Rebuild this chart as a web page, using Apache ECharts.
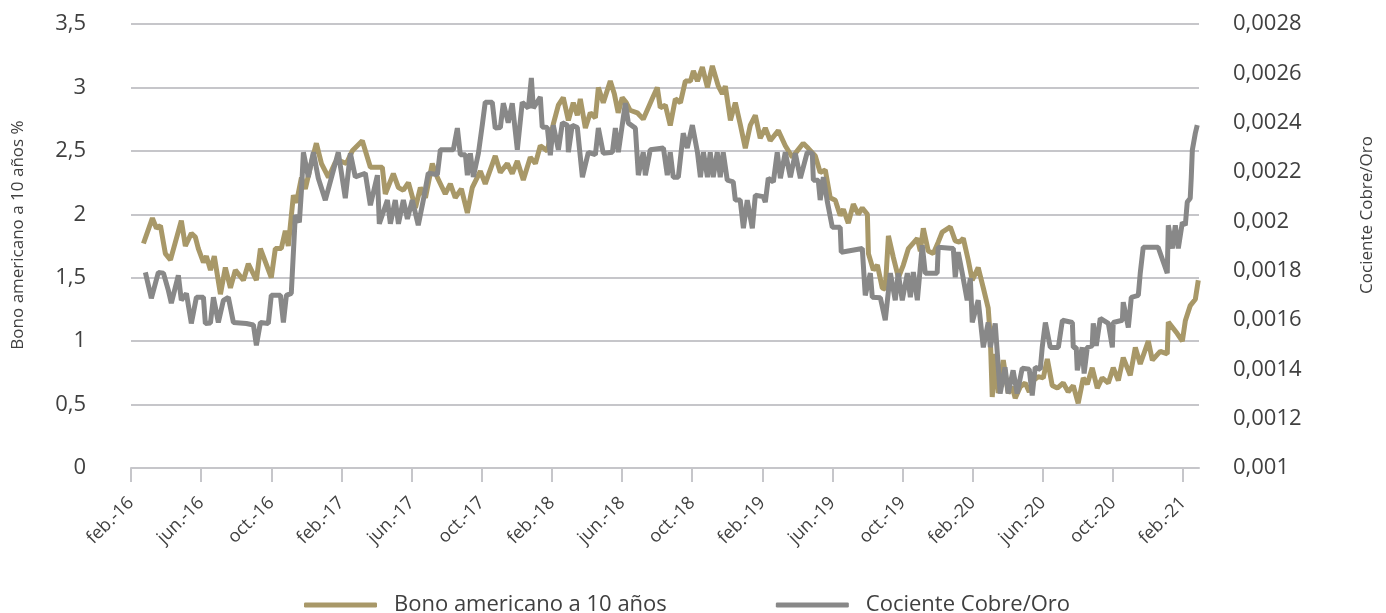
<!DOCTYPE html>
<html>
<head>
<meta charset="utf-8">
<title>Bono americano vs Cociente Cobre/Oro</title>
<script src="https://cdn.jsdelivr.net/npm/echarts@6/dist/echarts.min.js"></script>
<style>
    html, body { margin: 0; padding: 0; background: #fff; }
    #main { width: 1386px; height: 613px; }
</style>
</head>
<body>
<div id="main"></div>
<script>
// meses desde feb-16 (posicion en el eje de fechas)
var mesesBono = [
    0.71, 1.22, 1.45, 1.68, 1.96, 2.25, 2.87, 3.10, 3.44, 3.67,
    3.84, 4.13, 4.30, 4.53, 4.75, 5.10, 5.38, 5.67, 5.95, 6.41,
    6.69, 7.15, 7.38, 8.00, 8.23, 8.57, 8.80, 8.97, 9.26, 9.43,
    9.72, 9.94, 10.29, 10.57, 10.86, 11.26, 11.65, 11.94, 12.28, 12.62,
    13.19, 13.65, 14.33, 14.50, 14.96, 15.25, 15.53, 15.82, 16.22, 16.50,
    16.79, 17.18, 17.47, 17.92, 18.21, 18.49, 18.84, 19.18, 19.46, 19.92,
    20.20, 20.77, 21.06, 21.46, 21.74, 22.03, 22.37, 22.77, 23.06, 23.34,
    23.74, 24.08, 24.37, 24.65, 24.94, 25.22, 25.45, 25.62, 25.91, 26.19,
    26.48, 26.65, 26.93, 27.33, 27.56, 27.78, 28.01, 28.24, 28.46, 28.87,
    29.21, 29.72, 30.01, 30.18, 30.47, 30.75, 31.04, 31.33, 31.61, 31.90,
    32.07, 32.30, 32.58, 32.87, 33.15, 33.49, 33.72, 33.89, 34.18, 34.46,
    34.74, 35.03, 35.31, 35.60, 35.88, 36.17, 36.45, 36.91, 37.31, 37.71,
    37.99, 38.33, 38.62, 39.02, 39.30, 39.59, 39.87, 40.16, 40.44, 40.62,
    40.90, 41.19, 41.47, 41.70, 41.99, 42.05, 42.33, 42.56, 42.84, 43.01,
    43.19, 43.47, 43.76, 44.04, 44.33, 44.84, 45.01, 45.18, 45.46, 45.75,
    46.03, 46.26, 46.72, 47.00, 47.23, 47.46, 47.74, 47.97, 48.31, 48.60,
    48.88, 49.00, 49.11, 49.28, 49.45, 49.74, 50.02, 50.25, 50.42, 50.71,
    50.99, 51.22, 51.45, 51.73, 52.02, 52.25, 52.53, 52.82, 53.16, 53.44,
    53.73, 54.01, 54.30, 54.53, 54.81, 55.10, 55.38, 55.73, 56.01, 56.30,
    56.58, 56.98, 57.27, 57.55, 58.01, 58.24, 58.69, 59.09, 59.15, 59.66,
    59.95, 60.12, 60.40, 60.69, 60.86
];
var bono = [
    1.77, 1.97, 1.89, 1.91, 1.69, 1.64, 1.95, 1.75, 1.85, 1.82,
    1.73, 1.62, 1.67, 1.56, 1.67, 1.37, 1.58, 1.42, 1.56, 1.48,
    1.61, 1.48, 1.73, 1.50, 1.73, 1.73, 1.87, 1.75, 2.15, 2.09,
    2.29, 2.20, 2.41, 2.56, 2.40, 2.29, 2.41, 2.42, 2.40, 2.50,
    2.58, 2.37, 2.37, 2.16, 2.32, 2.21, 2.19, 2.25, 2.05, 2.21,
    2.13, 2.40, 2.29, 2.16, 2.24, 2.13, 2.20, 2.01, 2.21, 2.34,
    2.24, 2.46, 2.33, 2.40, 2.32, 2.42, 2.27, 2.45, 2.40, 2.54,
    2.50, 2.71, 2.86, 2.92, 2.74, 2.88, 2.78, 2.91, 2.68, 2.80,
    2.76, 3.00, 2.88, 3.05, 2.95, 2.80, 2.92, 2.88, 2.82, 2.80,
    2.75, 2.91, 3.00, 2.84, 2.86, 2.70, 2.91, 2.88, 3.05, 3.05,
    3.13, 3.05, 3.16, 3.00, 3.17, 3.01, 2.95, 3.01, 2.74, 2.88,
    2.71, 2.52, 2.70, 2.78, 2.60, 2.68, 2.58, 2.66, 2.54, 2.45,
    2.50, 2.56, 2.52, 2.46, 2.33, 2.35, 2.13, 2.11, 1.99, 2.04,
    1.93, 2.08, 2.00, 2.05, 2.00, 1.69, 1.56, 1.60, 1.42, 1.41,
    1.83, 1.66, 1.50, 1.60, 1.73, 1.81, 1.71, 1.89, 1.71, 1.69,
    1.78, 1.86, 1.90, 1.79, 1.78, 1.81, 1.64, 1.48, 1.58, 1.42,
    1.26, 1.03, 0.56, 0.90, 0.59, 0.85, 0.59, 0.64, 0.55, 0.64,
    0.67, 0.60, 0.69, 0.72, 0.71, 0.86, 0.65, 0.63, 0.67, 0.60,
    0.65, 0.51, 0.71, 0.66, 0.79, 0.63, 0.71, 0.67, 0.79, 0.69,
    0.87, 0.73, 0.95, 0.82, 1.00, 0.85, 0.92, 0.90, 1.15, 1.06,
    1.00, 1.16, 1.28, 1.33, 1.48
];
var mesesCociente = [
    0.82, 1.16, 1.56, 1.85, 2.13, 2.30, 2.70, 2.87, 3.16, 3.44,
    3.73, 4.13, 4.24, 4.53, 4.70, 4.98, 5.27, 5.55, 5.84, 6.58,
    6.98, 7.15, 7.38, 7.83, 8.00, 8.52, 8.69, 8.86, 9.14, 9.37,
    9.60, 9.72, 9.83, 10.11, 10.40, 10.68, 11.08, 11.42, 11.82, 12.22,
    12.51, 12.79, 13.36, 13.65, 14.05, 14.16, 14.62, 14.79, 15.07, 15.25,
    15.53, 15.76, 16.04, 16.38, 16.67, 16.95, 17.47, 17.64, 18.38, 18.61,
    18.78, 19.07, 19.18, 19.35, 19.52, 19.81, 20.03, 20.20, 20.60, 20.77,
    21.06, 21.23, 21.51, 21.74, 22.03, 22.31, 22.66, 22.83, 22.94, 23.34,
    23.45, 23.74, 23.91, 24.08, 24.37, 24.60, 24.88, 24.94, 25.16, 25.45,
    25.74, 26.08, 26.48, 26.65, 26.93, 27.45, 27.62, 27.79, 28.19, 28.36,
    28.76, 28.93, 29.21, 29.33, 29.61, 30.36, 30.58, 30.75, 30.92, 31.21,
    31.49, 31.72, 32.01, 32.30, 32.47, 32.64, 32.87, 33.03, 33.20, 33.43,
    33.60, 33.77, 34.00, 34.34, 34.46, 34.74, 34.92, 35.14, 35.43, 35.60,
    36.05, 36.17, 36.34, 36.63, 36.85, 37.03, 37.31, 37.60, 37.88, 38.17,
    38.56, 38.85, 38.91, 39.19, 39.30, 39.48, 39.71, 39.99, 40.44, 40.50,
    41.70, 41.87, 42.16, 42.27, 42.73, 43.01, 43.30, 43.58, 43.75, 43.98,
    44.27, 44.44, 44.61, 44.84, 45.12, 45.29, 45.97, 46.03, 46.89, 47.00,
    47.17, 47.40, 47.68, 47.86, 47.97, 48.31, 48.60, 48.88, 49.00, 49.28,
    49.56, 49.84, 50.02, 50.30, 50.53, 50.82, 51.22, 51.39, 51.56, 51.85,
    51.96, 52.14, 52.42, 52.88, 53.11, 53.68, 53.73, 53.90, 53.96, 54.24,
    54.35, 54.53, 54.81, 54.87, 55.04, 55.27, 55.73, 55.96, 56.01, 56.53,
    56.58, 56.87, 57.04, 57.44, 57.55, 57.72, 58.57, 59.09, 59.15, 59.38,
    59.55, 59.72, 59.95, 60.12, 60.23, 60.40, 60.46, 60.52, 60.69, 60.80
];
var cociente = [
    0.001793, 0.001688, 0.001793, 0.00179, 0.00172, 0.001668, 0.001781, 0.00168, 0.001708, 0.001586,
    0.001692, 0.001692, 0.001586, 0.001588, 0.001692, 0.00159, 0.00168, 0.001692, 0.00159, 0.001586,
    0.00158, 0.001497, 0.00159, 0.001586, 0.0017, 0.0017, 0.00159, 0.0017, 0.001708, 0.002025,
    0.001996, 0.002126, 0.00228, 0.00218, 0.00228, 0.002175, 0.002086, 0.002175, 0.00228, 0.002094,
    0.002276, 0.00218, 0.002195, 0.002065, 0.002187, 0.00199, 0.002086, 0.00199, 0.002086, 0.00199,
    0.002086, 0.00201, 0.002086, 0.001984, 0.002086, 0.002195, 0.00219, 0.00229, 0.00229, 0.002378,
    0.00227, 0.00227, 0.002187, 0.002276, 0.00218, 0.002276, 0.00239, 0.002483, 0.002483, 0.002378,
    0.00238, 0.002479, 0.0024, 0.002479, 0.00229, 0.002483, 0.002459, 0.002581, 0.002459, 0.002504,
    0.002382, 0.00238, 0.002268, 0.00239, 0.00229, 0.0024, 0.00239, 0.00228, 0.00239, 0.00238,
    0.002179, 0.00228, 0.00227, 0.002378, 0.002276, 0.00228, 0.002378, 0.00228, 0.002479, 0.002398,
    0.002378, 0.002187, 0.00228, 0.002187, 0.00229, 0.002297, 0.002187, 0.00228, 0.002179, 0.002179,
    0.002357, 0.002297, 0.00239, 0.00228, 0.002179, 0.00228, 0.002179, 0.00228, 0.002179, 0.00228,
    0.002179, 0.00228, 0.002167, 0.00216, 0.002086, 0.002086, 0.001972, 0.002086, 0.001972, 0.002106,
    0.0021, 0.002078, 0.002175, 0.00216, 0.00228, 0.002175, 0.00228, 0.002179, 0.002276, 0.002175,
    0.00228, 0.002276, 0.002167, 0.002167, 0.002086, 0.002179, 0.002078, 0.001976, 0.001976, 0.001875,
    0.00189, 0.0017, 0.00179, 0.001692, 0.00169, 0.001599, 0.00179, 0.00168, 0.00179, 0.00168,
    0.00179, 0.001692, 0.001794, 0.00168, 0.001903, 0.00179, 0.00179, 0.001895, 0.00189, 0.001773,
    0.001875, 0.00179, 0.00168, 0.00177, 0.00159, 0.00168, 0.001489, 0.00159, 0.00149, 0.001586,
    0.001302, 0.001408, 0.001302, 0.001396, 0.001302, 0.001404, 0.0014, 0.001294, 0.001408, 0.0014,
    0.001489, 0.00159, 0.001489, 0.001489, 0.001599, 0.00159, 0.001489, 0.001489, 0.001396, 0.001489,
    0.001383, 0.001489, 0.001495, 0.001586, 0.001495, 0.001607, 0.001586, 0.001489, 0.00159, 0.001599,
    0.001672, 0.00157, 0.001692, 0.0017, 0.00179, 0.001895, 0.001895, 0.00179, 0.001984, 0.00189,
    0.001984, 0.00189, 0.001996, 0.001984, 0.002078, 0.002094, 0.002179, 0.002289, 0.002357, 0.00239
];
// marcas del eje x: cada 4 meses desde feb-16
var marcasMes = [0, 4, 8, 12, 16, 20, 24, 28, 32, 36, 40, 44, 48, 52, 56, 60];
var nombresMes = ['feb.', 'jun.', 'oct.'];

var FONT = '"Open Sans", "Noto Sans", sans-serif';
var TEXT_COLOR = '#404040';
var GRID_COLOR = '#c6c6ca';

var pares = function (xs, ys) {
    return xs.map(function (x, i) { return [x, ys[i]]; });
};
var coma = function (v) {
    return String(parseFloat(v.toFixed(4))).replace('.', ',');
};

var chart = echarts.init(document.getElementById('main'));
var option = {
    backgroundColor: '#ffffff',
    animation: false,
    textStyle: { fontFamily: FONT },
    grid: {
        left: 131,
        right: 187,
        top: 24,
        bottom: 145,
        containLabel: false,
        outerBoundsMode: 'none'
    },
    legend: {
        left: 299,
        top: 589,
        icon: 'roundRect',
        itemWidth: 73,
        itemHeight: 5,
        itemGap: 109,
        textStyle: {
            fontFamily: FONT,
            fontSize: 22,
            color: TEXT_COLOR,
            padding: [0, 0, 0, 12]
        },
        data: ['Bono americano a 10 años', 'Cociente Cobre/Oro']
    },
    graphic: [
        {
            type: 'text',
            x: 18,
            y: 235,
            rotation: Math.PI / 2,
            style: {
                text: 'Bono americano a 10 años %',
                font: '17px ' + FONT,
                fill: TEXT_COLOR,
                align: 'center',
                verticalAlign: 'middle'
            }
        },
        {
            type: 'text',
            x: 1367,
            y: 215,
            rotation: Math.PI / 2,
            style: {
                text: 'Cociente Cobre/Oro',
                font: '17px ' + FONT,
                fill: TEXT_COLOR,
                align: 'center',
                verticalAlign: 'middle'
            }
        }
    ],
    xAxis: {
        type: 'value',
        min: 0,
        max: 60.9,
        splitLine: { show: false },
        axisLine: { show: true, lineStyle: { color: GRID_COLOR, width: 2 } },
        axisTick: {
            show: true,
            length: 14,
            customValues: marcasMes,
            lineStyle: { color: GRID_COLOR, width: 2 }
        },
        axisLabel: {
            customValues: marcasMes,
            rotate: 45,
            margin: 32,
            fontSize: 18,
            fontFamily: FONT,
            color: TEXT_COLOR,
            formatter: function (m) {
                var anio = 16 + Math.floor(m / 12);
                return nombresMes[Math.round(m / 4) % 3] + '-' + anio;
            }
        }
    },
    yAxis: [
        {
            type: 'value',
            min: 0,
            max: 3.5,
            interval: 0.5,
            axisLine: { show: false },
            axisTick: { show: false },
            splitLine: { show: true, lineStyle: { color: GRID_COLOR, width: 2 } },
            axisLabel: {
                margin: 45,
                fontSize: 22,
                fontFamily: FONT,
                color: TEXT_COLOR,
                formatter: function (v) { return coma(v); }
            }
        },
        {
            type: 'value',
            min: 0.001,
            max: 0.0028,
            interval: 0.0002,
            axisLine: { show: false },
            axisTick: { show: false },
            splitLine: { show: false },
            axisLabel: {
                margin: 34,
                fontSize: 22,
                fontFamily: FONT,
                color: TEXT_COLOR,
                formatter: function (v) { return coma(v); }
            }
        }
    ],
    series: [
        {
            name: 'Bono americano a 10 años',
            type: 'line',
            yAxisIndex: 0,
            showSymbol: false,
            color: '#a89868',
            lineStyle: { width: 5, color: '#a89868' },
            data: pares(mesesBono, bono)
        },
        {
            name: 'Cociente Cobre/Oro',
            type: 'line',
            yAxisIndex: 1,
            showSymbol: false,
            color: '#888888',
            lineStyle: { width: 5, color: '#888888' },
            data: pares(mesesCociente, cociente)
        }
    ]
};
chart.setOption(option);
</script>
</body>
</html>
